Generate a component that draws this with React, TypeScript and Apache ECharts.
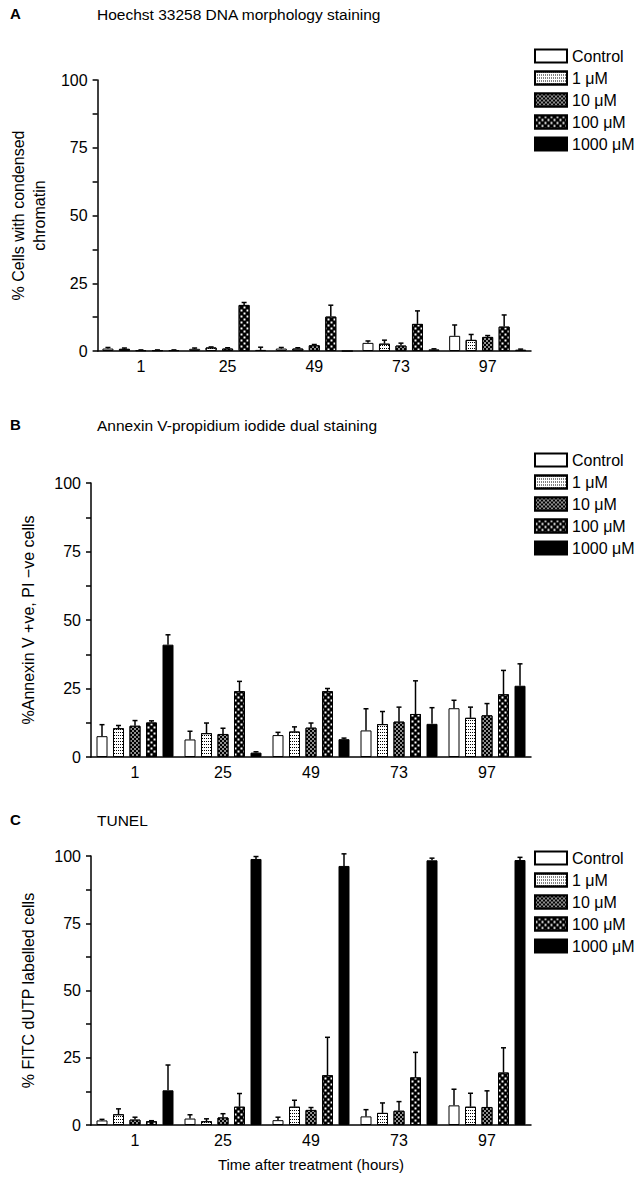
import React, { useEffect, useRef } from 'react';
import * as echarts from 'echarts';

const timePoints = ['1', '25', '49', '73', '97'];
const doses = ['Control', '1 μM', '10 μM', '100 μM', '1000 μM'];

// Panel A: Hoechst 33258 (rows = doses, columns = time points)
const hoechstMean = [
  [0.9, 0.8, 0.9, 3.0, 5.6],
  [0.8, 1.3, 0.9, 2.7, 4.1],
  [0.3, 0.9, 2.1, 2.0, 5.2],
  [0.3, 17.0, 12.7, 10.0, 9.0],
  [0.3, 0.4, 0, 0.6, 0.5],
];
const hoechstErr = [
  [0.4, 0.3, 0.4, 0.7, 4.0],
  [0.3, 0.2, 0.3, 1.3, 2.0],
  [0.1, 0.3, 0.3, 0.9, 0.5],
  [0.1, 0.9, 4.2, 4.8, 4.3],
  [0.1, 1.0, 0, 0.2, 0.2],
];

// Panel B: Annexin V / PI
const annexinMean = [
  [7.6, 6.4, 8.0, 9.7, 17.8],
  [10.5, 8.7, 9.3, 12.0, 14.3],
  [11.4, 8.4, 10.7, 12.9, 15.2],
  [12.6, 24.0, 24.0, 15.7, 22.9],
  [41.0, 1.6, 6.5, 12.1, 26.0],
];
const annexinErr = [
  [4.2, 3.0, 1.0, 7.9, 2.9],
  [1.0, 3.7, 1.7, 4.6, 3.9],
  [1.9, 2.1, 1.7, 5.3, 4.3],
  [0.6, 3.6, 1.0, 12.1, 8.7],
  [3.6, 0.3, 0.4, 5.9, 8.0],
];

// Panel C: TUNEL
const tunelMean = [
  [1.7, 2.4, 1.8, 3.2, 7.3],
  [4.0, 1.4, 6.8, 4.5, 6.8],
  [2.0, 2.8, 5.6, 5.3, 6.7],
  [1.4, 6.8, 18.5, 17.7, 19.5],
  [12.9, 98.9, 96.3, 98.4, 98.5],
];
const tunelErr = [
  [0.4, 1.4, 1.1, 2.5, 6.0],
  [2.0, 0.9, 2.4, 3.7, 5.0],
  [0.9, 1.4, 0.9, 3.4, 6.0],
  [0.2, 4.9, 14.1, 9.3, 9.2],
  [9.4, 0.9, 4.5, 0.8, 1.0],
];

const yTicks = [0, 25, 50, 75, 100];

const FONT = 'Liberation Sans, Arial, Helvetica, sans-serif';
const BAR_W = 11;
const BAR_STEP = 16.5;

const doseStyles: any[] = [
  { color: '#fff', borderColor: '#000', borderWidth: 1 },
  {
    color: '#fff', borderColor: '#000', borderWidth: 1,
    decal: { symbol: 'rect', color: '#000', symbolSize: 1, dashArrayX: [1, 1], dashArrayY: [1, 1.5] },
  },
  {
    color: '#000', borderColor: '#000', borderWidth: 1,
    decal: { symbol: 'rect', color: '#fff', symbolSize: 0.75, dashArrayX: [[1.5, 1.5], [0, 1.5, 1.5, 0]], dashArrayY: [1.5, 0] },
  },
  {
    color: '#000', borderColor: '#000', borderWidth: 1,
    decal: { symbol: 'rect', color: '#fff', symbolSize: 0.65, dashArrayX: [[3, 3], [0, 3, 3, 0]], dashArrayY: [3, 0] },
  },
  { color: '#000', borderColor: '#000', borderWidth: 1 },
];

const panels = [
  { letter: 'A', title: 'Hoechst 33258 DNA morphology staining', yName: '% Cells with condensed\nchromatin', yGap: 34, top: 80, height: 271, titleTop: 6, legendTop: 48, mean: hoechstMean, err: hoechstErr, xName: '' },
  { letter: 'B', title: 'Annexin V-propidium iodide dual staining', yName: '%Annexin V +ve, PI −ve cells', yGap: 52, top: 483, height: 274, titleTop: 417, legendTop: 452, mean: annexinMean, err: annexinErr, xName: '' },
  { letter: 'C', title: 'TUNEL', yName: '% FITC dUTP labelled cells', yGap: 52, top: 856, height: 269, titleTop: 812, legendTop: 850, mean: tunelMean, err: tunelErr, xName: 'Time after treatment (hours)' },
];

function buildOption() {
  const grid: any[] = [];
  const xAxis: any[] = [];
  const yAxis: any[] = [];
  const series: any[] = [];
  const title: any[] = [];
  const legend: any[] = [];

  panels.forEach((p, pi) => {
    grid.push({ left: 91, top: p.top, width: 440, height: p.height });
    title.push({ text: p.letter, left: 10, top: p.titleTop, padding: 0, textStyle: { fontFamily: FONT, fontSize: 15, fontWeight: 'bold', color: '#000' } });
    title.push({ text: p.title, left: 97, top: p.titleTop, padding: 0, textStyle: { fontFamily: FONT, fontSize: 15.5, fontWeight: 'normal', color: '#000' } });
    xAxis.push({
      type: 'category', gridIndex: pi, data: timePoints,
      axisLine: { lineStyle: { color: '#000', width: 1.5 } },
      axisTick: { show: false },
      axisLabel: { color: '#000', fontSize: 16, fontFamily: FONT, margin: 7 },
      name: p.xName, nameLocation: 'middle', nameGap: 32,
      nameTextStyle: { color: '#000', fontSize: 15, fontFamily: FONT },
    });
    yAxis.push({
      type: 'value', gridIndex: pi, min: 0, max: 100, interval: 12.5,
      axisLine: { show: true, lineStyle: { color: '#000', width: 1.5 } },
      axisTick: { show: true, length: 5, lineStyle: { color: '#000', width: 1.5 } },
      splitLine: { show: false },
      axisLabel: {
        color: '#000', fontSize: 16, fontFamily: FONT, margin: 10,
        formatter: (v: number) => (yTicks.indexOf(v) >= 0 ? String(v) : ''),
      },
      name: p.yName, nameLocation: 'middle', nameGap: p.yGap,
      nameTextStyle: { color: '#000', fontSize: 16, fontFamily: FONT, lineHeight: 21 },
    });
    doses.forEach((d, di) => {
      series.push({
        type: 'bar', name: d, xAxisIndex: pi, yAxisIndex: pi,
        data: p.mean[di], barWidth: BAR_W, barGap: '50%',
        itemStyle: doseStyles[di],
      });
    });
    const errData: number[][] = [];
    doses.forEach((d, di) => {
      timePoints.forEach((t, ti) => {
        const m = p.mean[di][ti];
        errData.push([ti, m, m + p.err[di][ti], di]);
      });
    });
    series.push({
      type: 'custom', name: 'err' + pi, xAxisIndex: pi, yAxisIndex: pi, z: 5,
      data: errData,
      encode: { x: 0, y: [1, 2] },
      renderItem: (params: any, api: any) => {
        const ti = api.value(0);
        const base = api.coord([ti, api.value(1)]);
        const top = api.coord([ti, api.value(2)]);
        const x = base[0] + (api.value(3) - 2) * BAR_STEP;
        if (api.value(2) - api.value(1) <= 0) return null;
        return {
          type: 'group',
          children: [
            { type: 'line', shape: { x1: x, y1: base[1], x2: x, y2: top[1] }, style: { stroke: '#000', lineWidth: 1.5 } },
            { type: 'line', shape: { x1: x - 2.5, y1: top[1], x2: x + 2.5, y2: top[1] }, style: { stroke: '#000', lineWidth: 1.5 } },
          ],
        };
      },
    });
    legend.push({
      data: doses, orient: 'vertical', left: 534, top: p.legendTop, padding: 0,
      icon: 'rect', itemWidth: 32, itemHeight: 13, itemGap: 6,
      selectedMode: false,
      textStyle: { color: '#000', fontSize: 16, fontFamily: FONT, padding: [0, 0, 0, 0] },
    });
  });

  return {
    animation: false,
    backgroundColor: '#fff',
    textStyle: { fontFamily: FONT },
    title, grid, xAxis, yAxis, series, legend,
  };
}

export default function App() {
  const ref = useRef<HTMLDivElement>(null);
  useEffect(() => {
    if (!ref.current) return;
    const chart = echarts.init(ref.current, undefined, { renderer: 'svg' });
    chart.setOption(buildOption() as any);
    return () => chart.dispose();
  }, []);
  return <div ref={ref} style={{ position: 'absolute', left: 0, top: 0, width: 644, height: 1203 }} />;
}
